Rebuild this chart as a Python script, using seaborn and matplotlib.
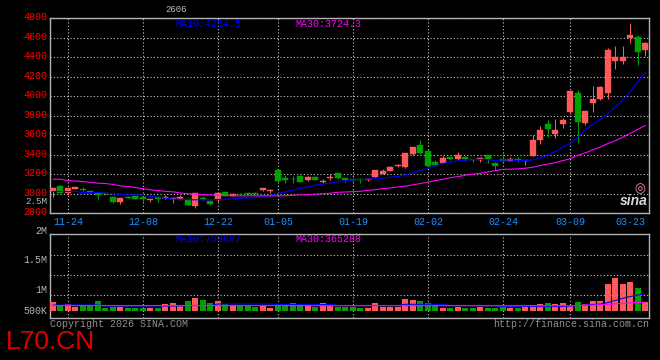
import numpy as np
import pandas as pd
import matplotlib
matplotlib.use("Agg")
import matplotlib.pyplot as plt
import matplotlib.transforms as mtransforms
import seaborn as sns

# ------------- DATA -------------
opens = [3025, 3075, 3005, 3050, 3045, 3028, 3012, 3005, 2970, 2914,
         2972, 2975, 2970, 2935, 2965, 2955, 2948, 2950, 2945, 2878,
         2958, 2930, 2932, 3018, 2980, 3000, 3012, 3008, 3035, 3025,
         3245, 3165, 3155, 3185, 3143, 3175, 3122, 3160, 3210, 3158,
         3150, 3148, 3140, 3176, 3205, 3238, 3285, 3272, 3405, 3500,
         3440, 3330, 3320, 3380, 3355, 3378, 3355, 3347, 3397, 3318,
         3358, 3340, 3355, 3333, 3388, 3550, 3712, 3612, 3713, 3840,
         4030, 3720, 3932, 3968, 4033, 4360, 4360, 4595, 4610, 4468]
highs = [3062, 3090, 3062, 3072, 3065, 3032, 3015, 3010, 2975, 2960,
         2978, 2978, 2975, 2948, 2968, 2990, 2962, 2985, 2950, 3010,
         2975, 2935, 3008, 3020, 3002, 3010, 3020, 3020, 3062, 3045,
         3248, 3195, 3185, 3190, 3185, 3182, 3155, 3200, 3215, 3160,
         3160, 3160, 3160, 3245, 3255, 3282, 3305, 3420, 3480, 3550,
         3445, 3345, 3385, 3385, 3425, 3385, 3360, 3375, 3400, 3322,
         3405, 3375, 3380, 3350, 3600, 3693, 3760, 3770, 3772, 4052,
         4060, 3850, 4100, 4100, 4497, 4510, 4510, 4750, 4622, 4550]
lows = [2972, 3008, 2990, 3046, 3030, 3005, 2945, 2985, 2908, 2895,
        2955, 2945, 2915, 2920, 2915, 2945, 2905, 2935, 2885, 2850,
        2935, 2880, 2915, 2975, 2975, 2985, 2990, 2995, 3025, 3012,
        3118, 3115, 3115, 3120, 3135, 3138, 3110, 3140, 3155, 3120,
        3118, 3115, 3130, 3170, 3200, 3235, 3275, 3268, 3400, 3405,
        3280, 3290, 3315, 3350, 3350, 3335, 3330, 3325, 3320, 3245,
        3335, 3335, 3330, 3295, 3385, 3510, 3585, 3575, 3670, 3822,
        3515, 3700, 3840, 3965, 3975, 4282, 4325, 4545, 4315, 4408]
closes = [3058, 3012, 3058, 3068, 3035, 3010, 2992, 2998, 2912, 2955,
          2960, 2950, 2950, 2945, 2948, 2965, 2958, 2962, 2888, 3006,
          2950, 2900, 3005, 2980, 2998, 2995, 2995, 3002, 3055, 3042,
          3135, 3145, 3148, 3125, 3175, 3145, 3135, 3170, 3160, 3138,
          3140, 3140, 3148, 3240, 3235, 3278, 3292, 3415, 3475, 3420,
          3285, 3297, 3362, 3355, 3398, 3355, 3348, 3370, 3355, 3280,
          3340, 3355, 3345, 3346, 3550, 3652, 3660, 3658, 3755, 4050,
          3730, 3846, 3975, 4090, 4468, 4405, 4400, 4622, 4452, 4547]
ma10 = [3025, 3023, 3023, 3023, 3012, 3012, 3012, 3005, 2999, 2995,
        2989, 2989, 2985, 2975, 2965, 2955, 2945, 2945, 2940, 2938,
        2938, 2938, 2942, 2945, 2945, 2955, 2955, 2965, 2972, 2985,
        3006, 3020, 3040, 3057, 3070, 3088, 3100, 3108, 3125, 3135,
        3142, 3145, 3150, 3155, 3162, 3170, 3178, 3193, 3215, 3240,
        3262, 3285, 3310, 3325, 3338, 3346, 3350, 3353, 3348, 3342,
        3346, 3346, 3342, 3340, 3348, 3365, 3400, 3435, 3480, 3516,
        3584, 3660, 3710, 3765, 3822, 3890, 3960, 4050, 4150, 4240]
ma30 = [3149, 3149, 3135, 3130, 3125, 3118, 3108, 3105, 3095, 3081,
        3074, 3064, 3052, 3040, 3033, 3025, 3020, 3008, 3000, 2995,
        2990, 2988, 2985, 2982, 2979, 2979, 2979, 2979, 2979, 2979,
        2979, 2979, 2985, 2989, 2990, 2997, 3000, 3006, 3015, 3018,
        3022, 3026, 3035, 3042, 3053, 3060, 3070, 3078, 3092, 3105,
        3120, 3135, 3148, 3165, 3176, 3190, 3200, 3210, 3222, 3238,
        3250, 3252, 3255, 3262, 3272, 3290, 3305, 3320, 3340, 3360,
        3395, 3420, 3450, 3480, 3515, 3545, 3580, 3620, 3660, 3700]
volume = [348000, 240000, 280000, 172000, 240000, 240000, 400000, 132000, 172000, 172000,
          132000, 108000, 132000, 132000, 132000, 268000, 308000, 240000, 400000, 508000,
          428000, 308000, 400000, 292000, 240000, 212000, 212000, 172000, 212000, 132000,
          280000, 280000, 320000, 280000, 280000, 172000, 320000, 200000, 172000, 172000,
          172000, 132000, 132000, 308000, 172000, 172000, 172000, 480000, 440000, 400000,
          308000, 240000, 132000, 132000, 172000, 132000, 132000, 172000, 132000, 132000,
          172000, 108000, 108000, 172000, 240000, 280000, 320000, 280000, 320000, 212000,
          348000, 280000, 400000, 400000, 1080000, 1332000, 1080000, 1160000, 920000, 348000]
vol_ma10 = [240000] * 7 + [200000] * 11 + [220000] * 4 + [280000] * 8 + [260000] * 8 + \
           [220000] * 9 + [268000] * 6 + [212000] * 7 + [180000] * 9 + \
           [200000, 220000, 240000, 260000, 280000, 340000, 420000, 508000, 580000, 640000, 700000]
vol_ma30 = [216000] * 31 + [212000] * 40 + \
           [228000, 236000, 244000, 264000, 288000, 308000, 328000, 344000, 352000]

date_idx = [2, 12, 22, 30, 40, 50, 60, 69, 79]
date_labels = ["11-24", "12-08", "12-22", "01-05", "01-19", "02-02", "02-24", "03-09", "03-23"]
price_ticks = list(range(2800, 4801, 200))
vol_grid = [640000, 1440000, 2240000]
vol_labels = ["2M", "1.5M", "1M", "500K"]
ma_texts = ["MA10:4254.5", "MA30:3724.3"]
vol_ma_texts = ["MA10:753687", "MA30:365288"]

# ------------- STYLE -------------
sns.set_theme(style="dark", rc={"axes.facecolor": "black", "figure.facecolor": "black"})
plt.rcParams["font.family"] = ["Liberation Mono", "DejaVu Sans"]

RED = "#ff5a5a"
GREEN = "#00a000"
GRID = "#c8c8c8"
DOT = (0, (1, 2))
FS = 7.2

df = pd.DataFrame({"open": opens, "high": highs, "low": lows, "close": closes,
                   "ma10": ma10, "ma30": ma30, "vol": volume,
                   "vma10": vol_ma10, "vma30": vol_ma30})
df["idx"] = np.arange(len(df))
df["color"] = np.where(df["close"] >= df["open"], RED, GREEN)

W, H = 660, 360
fig = plt.figure(figsize=(6.6, 3.6), dpi=100, facecolor="black")
ax = fig.add_axes([50 / W, 1 - 213.3 / H, 599 / W, 195.3 / H])
axv = fig.add_axes([50 / W, 1 - 318 / H, 599 / W, 84 / H])

for a in (ax, axv):
    a.set_facecolor("black")
    a.set_xlim(-0.4, 79.47)
    for s in a.spines.values():
        s.set_color("#b4b4b4")
        s.set_linewidth(1)
    a.tick_params(length=0)
    for i in date_idx[:-1]:
        a.axvline(i, color=GRID, linestyle=DOT, linewidth=0.8, zorder=1)

# ------------- PRICE PANEL -------------
ax.set_ylim(2800, 4800)
ax.set_yticks(price_ticks)
ax.yaxis.grid(True, color=GRID, linestyle=DOT, linewidth=0.8)
ax.xaxis.grid(False)
ax.set_axisbelow(True)
ax.set_yticklabels([str(t) for t in price_ticks], color="#ff0000", fontsize=FS)
ax.tick_params(axis="y", pad=2)
ax.set_xticks(date_idx)
ax.set_xticklabels(date_labels, color="#1e90ff", fontsize=FS)
ax.tick_params(axis="x", pad=3)
ax.get_xticklabels()[-1].set_ha("right")
# price labels sit a little above their grid lines on the original
lift = mtransforms.ScaledTranslation(0, 2 / 100, fig.dpi_scale_trans)
for lab in ax.get_yticklabels():
    lab.set_transform(lab.get_transform() + lift)

ax.vlines(df["idx"], df["low"], df["high"], colors=df["color"], linewidth=0.75, zorder=2)
body_lo = df[["open", "close"]].min(axis=1)
body_h = np.maximum((df["close"] - df["open"]).abs(), 6)
ax.bar(df["idx"], body_h, bottom=body_lo, width=0.8, color=df["color"],
       edgecolor=df["color"], linewidth=0.3, zorder=3)

sns.lineplot(x=df["idx"], y=df["ma10"], ax=ax, color="#0000ff", linewidth=0.8, zorder=4)
sns.lineplot(x=df["idx"], y=df["ma30"], ax=ax, color="#ff00ff", linewidth=0.8, zorder=4)
ax.set_xlabel("")
ax.set_ylabel("")

# ------------- VOLUME PANEL -------------
axv.set_ylim(-280000, 3080000)
axv.set_yticks(vol_grid)
axv.set_yticklabels([])
axv.set_xticks([])
axv.yaxis.grid(True, color=GRID, linestyle=DOT, linewidth=0.8)
axv.set_axisbelow(True)
axv.bar(df["idx"], df["vol"], width=0.8, color=df["color"], linewidth=0, zorder=3)
sns.lineplot(x=df["idx"], y=df["vma10"], ax=axv, color="#0000ff", linewidth=0.8, zorder=4)
sns.lineplot(x=df["idx"], y=df["vma30"], ax=axv, color="#ff00ff", linewidth=0.8, zorder=4)
axv.set_xlabel("")
axv.set_ylabel("")

# ------------- TEXTS -------------
def ftext(x, y, s, **kw):
    kw.setdefault("fontsize", FS)
    kw.setdefault("va", "center")
    fig.text(x / W, 1 - y / H, s, **kw)

ftext(176, 10, "2606", color="#c0c0c0", ha="center", fontsize=6.5)
ftext(175, 24, ma_texts[0], color="#0000ff")
ftext(295, 24, ma_texts[1], color="#ff00ff")
ftext(175, 238.5, vol_ma_texts[0], color="#0000ff")
ftext(295, 238.5, vol_ma_texts[1], color="#ff00ff")

# stray volume-scale label that sits inside the price axis, as on the original
ftext(47, 201.8, "2.5M", color="#b4b4b4", ha="right", fontsize=6.6)
for lab, y in zip(vol_labels, [231, 260, 290, 311]):
    ftext(47, y, lab, color="#b4b4b4", ha="right")

ftext(50, 324, "Copyright 2026 SINA.COM", color="#909090")
ftext(649, 324, "http://finance.sina.com.cn", color="#909090", ha="right")
fig.text(6 / W, 1 - 349 / H, "L70.CN", color="#dd0000", fontsize=19,
         family="Liberation Sans", va="baseline")

ftext(640, 189, "\u25ce", color="#ff9eb0", ha="center", fontsize=9, family="DejaVu Sans")
ftext(634, 201, "sina", color="#d8d8d8", ha="center", fontsize=10,
      family="Liberation Sans", style="italic", weight="bold")

fig.savefig("out.png", dpi=100, facecolor="black")
